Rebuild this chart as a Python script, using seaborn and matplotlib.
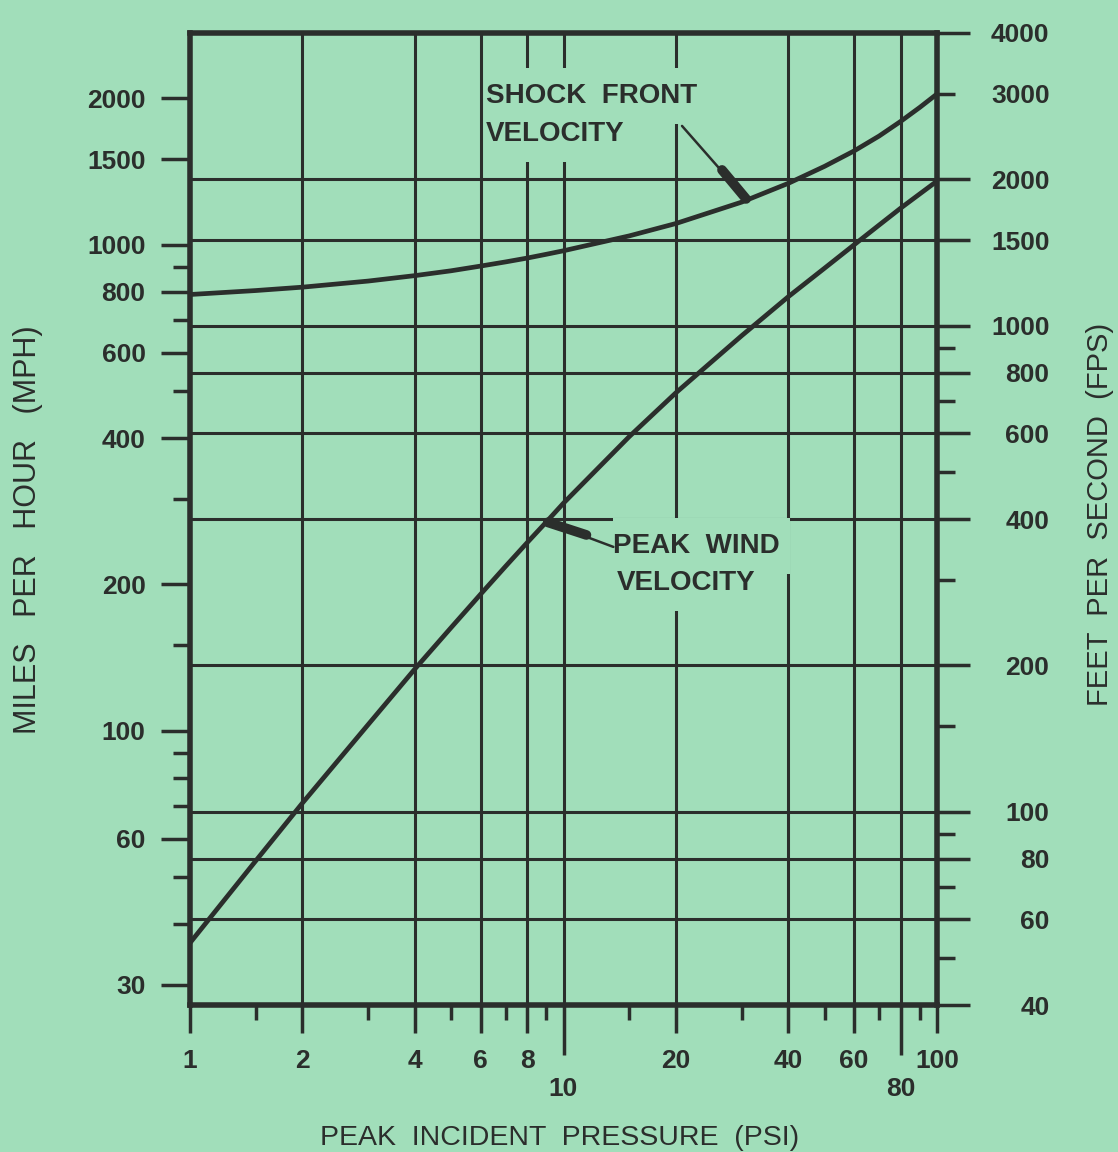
import numpy as np
import pandas as pd
import matplotlib
matplotlib.use("Agg")
import matplotlib.pyplot as plt
from matplotlib.patches import Rectangle
from matplotlib.ticker import NullFormatter, NullLocator
import seaborn as sns

# values: peak incident pressure (psi) -> velocity (mph)
psi = [1, 1.5, 2, 3, 4, 5, 6, 7, 8, 9, 10, 15, 20, 30, 40, 50, 60, 70, 80, 90, 100]
shock_mph = [790, 805, 818, 842, 864, 884, 904, 922, 939, 956, 972, 1043, 1106,
             1224, 1338, 1450, 1560, 1674, 1795, 1918, 2043]
wind_mph = [36.6, 54, 71, 103, 134, 163, 191, 218, 244, 269, 294, 403, 496,
            650, 782, 895, 1000, 1098, 1190, 1273, 1352]

# axis ticks
x_major = [1, 2, 4, 6, 8, 20, 40, 60, 100]
x_long = [10, 80]
x_minor = [1.5, 3, 5, 7, 9, 15, 30, 50, 70, 90]
x_grid = [2, 4, 6, 8, 10, 20, 40, 60, 80]

mph_major = [30, 60, 100, 200, 400, 600, 800, 1000, 1500, 2000]
mph_minor = [40, 50, 70, 80, 90, 150, 300, 500, 700, 900]

fps_major = [40, 60, 80, 100, 200, 400, 600, 800, 1000, 1500, 2000, 4000]
fps_minor = [50, 70, 90, 150, 300, 500, 700, 900, 3000]
fps_minor_labels = ["", "", "", "", "", "", "", "", "3000"]
fps_grid = [60, 80, 100, 200, 400, 600, 800, 1000, 1500, 2000]

FPS_PER_MPH = 22 / 15
BG = "#a1deba"
INK = "#2b2e2c"

sns.set_theme(style="ticks")
plt.rcParams["font.family"] = ["Liberation Sans", "DejaVu Sans"]
plt.rcParams["font.weight"] = "bold"

fig = plt.figure(figsize=(11.18, 11.52), dpi=100, facecolor=BG)
ax = fig.add_axes([190 / 1118, 1 - 1005 / 1152, 747 / 1118, 972 / 1152])
ax.set_facecolor(BG)
ax.set_xscale("log")
ax.set_yscale("log")

# grid drawn as plain ink lines (horizontal ones follow the fps scale)
for p in x_grid:
    ax.axvline(p, color=INK, lw=2.2, zorder=1)
for f in fps_grid:
    ax.axhline(f / FPS_PER_MPH, color=INK, lw=2.2, zorder=1)

df = pd.DataFrame({
    "psi": psi + psi,
    "mph": shock_mph + wind_mph,
    "curve": ["shock"] * len(psi) + ["wind"] * len(psi),
})
sns.lineplot(data=df, x="psi", y="mph", hue="curve", palette=[INK, INK],
             lw=3.4, legend=False, ax=ax, zorder=3)

ax.set_xlim(1, 100)
ax.set_ylim(40 / FPS_PER_MPH, 4000 / FPS_PER_MPH)
ax.set_xlabel("")
ax.set_ylabel("")

# bottom axis
ax.set_xticks(x_major, labels=[str(v) for v in x_major])
ax.set_xticks(x_minor, minor=True)
ax.xaxis.set_minor_formatter(NullFormatter())
ax.tick_params(axis="x", which="major", length=20, width=2.5, pad=12,
               labelsize=19, colors=INK)
ax.tick_params(axis="x", which="minor", length=11, width=2.5, colors=INK)

sec = ax.secondary_xaxis("bottom")
sec.set_xticks(x_long, labels=[str(v) for v in x_long])
sec.xaxis.set_minor_locator(NullLocator())
sec.tick_params(axis="x", which="major", length=36, width=2.5, pad=16,
                labelsize=19, colors=INK)
sec.spines["bottom"].set_visible(False)

# left axis (mph)
ax.set_yticks(mph_major, labels=[str(v) for v in mph_major])
ax.set_yticks(mph_minor, minor=True)
ax.yaxis.set_minor_formatter(NullFormatter())
ax.tick_params(axis="y", which="major", length=21, width=2.5, pad=11,
               labelsize=19, colors=INK)
ax.tick_params(axis="y", which="minor", length=12, width=2.5, colors=INK)

for s in ax.spines.values():
    s.set_linewidth(4)
    s.set_color(INK)
    s.set_visible(True)

# right axis (fps)
ax2 = ax.twinx()
ax2.set_yscale("log")
ax2.set_ylim(40, 4000)
ax2.set_yticks(fps_major, labels=[str(v) for v in fps_major])
ax2.set_yticks(fps_minor, labels=fps_minor_labels, minor=True)
ax2.tick_params(axis="y", which="major", length=24, width=2.5, pad=57,
                labelsize=19, colors=INK)
ax2.tick_params(axis="y", which="minor", length=13, width=2.5, pad=68,
                labelsize=19, colors=INK)
for lbl in ax2.get_yticklabels() + ax2.get_yticklabels(minor=True):
    lbl.set_horizontalalignment("right")
for s in ax2.spines.values():
    s.set_visible(False)

# curve labels (with gaps cut in the grid behind them)
curve_labels = [
    ("SHOCK  FRONT", 6.2, 1957),
    ("VELOCITY", 6.2, 1635),
    ("PEAK  WIND", 13.6, 232),
    ("VELOCITY", 13.9, 195),
]
texts = [ax.text(x, y, s, fontsize=20, fontweight="bold", color=INK,
                 ha="left", va="baseline", zorder=4)
         for s, x, y in curve_labels]

fig.canvas.draw()
renderer = fig.canvas.get_renderer()
to_axes = ax.transAxes.inverted()
for t in texts:
    bb = t.get_window_extent(renderer)
    (x0, y0), (x1, y1) = to_axes.transform([(bb.x0, bb.y0 - 15), (bb.x1 + 10, bb.y1 + 15)])
    ax.add_patch(Rectangle((x0, y0), x1 - x0, y1 - y0, transform=ax.transAxes,
                           facecolor=BG, edgecolor="none", zorder=2))


def pointer(tip_psi, curve, tail_off, blob_off):
    tip = 10 ** np.interp(np.log10(tip_psi), np.log10(psi), np.log10(curve))
    ax.annotate("", xy=(tip_psi, tip), xytext=tail_off, textcoords="offset points",
                arrowprops=dict(arrowstyle="-", color=INK, lw=1.8,
                                shrinkA=0, shrinkB=0), zorder=5)
    ax.annotate("", xy=(tip_psi, tip), xytext=blob_off, textcoords="offset points",
                arrowprops=dict(arrowstyle="-", color=INK, lw=7, capstyle="round",
                                shrinkA=0, shrinkB=1), zorder=5)


pointer(31, shock_mph, (-46.8, 53.3), (-18, 21.6))
pointer(9, wind_mph, (48.2, -18), (28.8, -9.4))

fig.text(28 / 1118, 1 - 530 / 1152, "MILES   PER   HOUR   (MPH)", rotation=90,
         ha="center", va="center", fontsize=22, fontweight="normal", color=INK)
fig.text(1100 / 1118, 1 - 514 / 1152, "FEET  PER  SECOND  (FPS)", rotation=90,
         ha="center", va="center", fontsize=21, fontweight="normal", color=INK)
fig.text(560 / 1118, 1 - 1138 / 1152, "PEAK  INCIDENT  PRESSURE  (PSI)",
         ha="center", va="center", fontsize=20.5, fontweight="normal", color=INK)

fig.savefig("out.png", dpi=100, facecolor=BG)
